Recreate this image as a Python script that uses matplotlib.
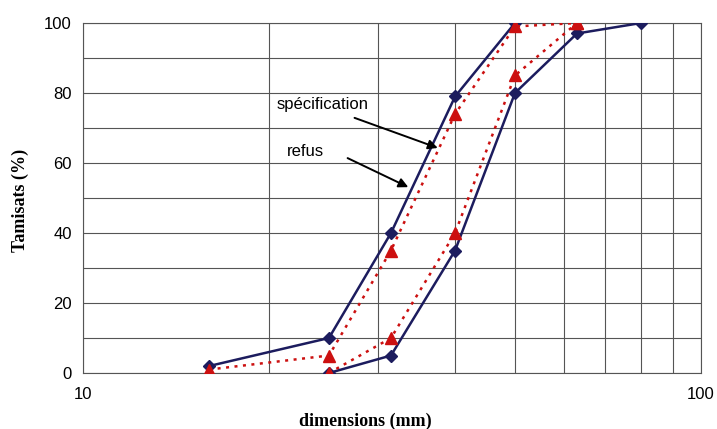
import matplotlib.pyplot as plt
from matplotlib.ticker import FixedLocator, NullFormatter

# fuseaux de spécification (bleu) et courbes refus (rouge)
spec_haut_x = [16, 25, 31.5, 40, 50]
spec_haut_y = [2, 10, 40, 79, 100]
spec_bas_x = [25, 31.5, 40, 50, 63, 80]
spec_bas_y = [0, 5, 35, 80, 97, 100]
refus_haut_x = [16, 25, 31.5, 40, 50, 63]
refus_haut_y = [1, 5, 35, 74, 99, 100]
refus_bas_x = [25, 31.5, 40, 50, 63]
refus_bas_y = [0, 10, 40, 85, 100]

bleu = "#1c1c5e"
rouge = "#cc1010"

fig = plt.figure(figsize=(7.17, 4.29), dpi=100)
ax = fig.add_axes([0.1158, 0.1305, 0.8619, 0.8159])

ax.plot(spec_haut_x, spec_haut_y, color=bleu, lw=1.8, marker="D", ms=6, zorder=3)
ax.plot(spec_bas_x, spec_bas_y, color=bleu, lw=1.8, marker="D", ms=6, zorder=3)
ax.plot(refus_haut_x, refus_haut_y, color=rouge, lw=1.8, ls=(0, (1.2, 2.2)),
        marker="^", ms=8, zorder=4)
ax.plot(refus_bas_x, refus_bas_y, color=rouge, lw=1.8, ls=(0, (1.2, 2.2)),
        marker="^", ms=8, zorder=4)

ax.set_xscale("log")
ax.set_xlim(10, 100)
ax.set_ylim(0, 100)

ax.xaxis.set_major_locator(FixedLocator([10, 100]))
ax.xaxis.set_minor_locator(FixedLocator([20, 30, 40, 50, 60, 70, 80, 90]))
ax.xaxis.set_minor_formatter(NullFormatter())
ax.set_xticklabels(["10", "100"], fontfamily="Liberation Sans", fontsize=12)
ax.set_yticks([0, 20, 40, 60, 80, 100])
ax.set_yticks([10, 30, 50, 70, 90], minor=True)
ax.set_yticklabels(["0", "20", "40", "60", "80", "100"],
                   fontfamily="Liberation Sans", fontsize=12)
ax.tick_params(axis="both", which="both", length=0)
ax.tick_params(axis="x", pad=10)
ax.tick_params(axis="y", pad=8)

ax.grid(True, which="both", color="#555555", lw=0.8)
for s in ax.spines.values():
    s.set_color("#555555")
    s.set_linewidth(0.8)

# titres des axes
fig.text(365 / 717, 1 - 421 / 429, "dimensions (mm)", fontfamily="Liberation Serif",
         fontweight="bold", fontsize=13, ha="center", va="center")
fig.text(20 / 717, 1 - 200 / 429, "Tamisats (%)", fontfamily="Liberation Serif",
         fontweight="bold", fontsize=13, ha="center", va="center", rotation=90)

# étiquettes et flèches
ax.text(24.4, 76.6, "spécification", fontfamily="Liberation Sans", fontsize=12,
        ha="center", va="center")
ax.text(22.9, 63.4, "refus", fontfamily="Liberation Sans", fontsize=12,
        ha="center", va="center")
fleche = dict(arrowstyle="-|>", color="black", lw=1.4, shrinkA=0, shrinkB=0,
              mutation_scale=14)
ax.annotate("", xy=(37.5, 64.3), xytext=(27.5, 72.9), arrowprops=fleche, zorder=5)
ax.annotate("", xy=(33.6, 53.1), xytext=(26.8, 61.4), arrowprops=fleche, zorder=5)

fig.savefig("out.png", dpi=100)
